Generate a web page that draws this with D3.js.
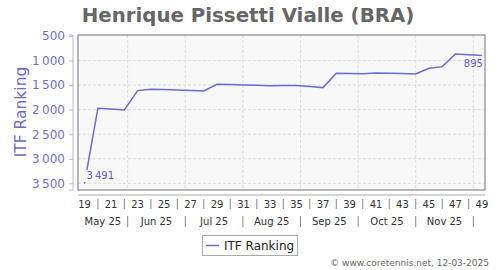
<!DOCTYPE html>
<html>
<head>
<meta charset="utf-8">
<script src="https://cdn.jsdelivr.net/npm/d3@7"></script>
<style>
  body { margin: 0; background: #fff; }
  text { font-family: "DejaVu Sans", sans-serif; }
</style>
</head>
<body>
<div id="viz"></div>
<script>
// weekly ITF ranking, weeks 19..49 of 2025
const weeks = d3.range(19, 50);
const ranking = [3491, 1970, 1985, 2005, 1612, 1585, 1592, 1600, 1608, 1618,
  1483, 1490, 1497, 1503, 1512, 1508, 1510, 1530, 1551, 1259,
  1265, 1270, 1252, 1260, 1265, 1273, 1157, 1124, 866, 880, 895];
const yTicks = [500, 1000, 1500, 2000, 2500, 3000, 3500];
const weekLabels = d3.range(19, 50, 2);
const monthLabels = ['May 25', 'Jun 25', 'Jul 25', 'Aug 25', 'Sep 25', 'Oct 25', 'Nov 25'];
// month boundaries, in week units
const monthEdges = [22.25, 26.6, 30.95, 35.3, 39.65, 44.0, 48.35];

const width = 500, height = 270;
const pLeft = 78, pRight = 485, pTop = 35, pBottom = 190;

const svg = d3.select('#viz').append('svg')
  .attr('width', width)
  .attr('height', height);

const x = d3.scaleLinear().domain([18.5, 49.23]).range([pLeft, pRight]);
const y = d3.scaleLinear().domain([480, 3636]).range([pTop, pBottom]);

const fmt = d => d3.format(',')(d).replace(',', '\u2009');

svg.append('text')
  .attr('x', 248)
  .attr('y', 22)
  .attr('text-anchor', 'middle')
  .style('font-size', '19.8px')
  .style('font-weight', 'bold')
  .attr('fill', '#666')
  .text('Henrique Pissetti Vialle (BRA)');

// plot area
svg.append('rect')
  .attr('x', pLeft).attr('y', pTop)
  .attr('width', pRight - pLeft).attr('height', pBottom - pTop)
  .attr('fill', '#f8f8f8');

svg.append('g')
  .selectAll('line')
  .data(yTicks.slice(1))
  .join('line')
  .attr('x1', pLeft).attr('x2', pRight)
  .attr('y1', d => y(d)).attr('y2', d => y(d))
  .attr('stroke', '#ddd')
  .attr('stroke-dasharray', '3,2');

svg.append('g')
  .selectAll('line')
  .data(monthEdges)
  .join('line')
  .attr('x1', d => x(d)).attr('x2', d => x(d))
  .attr('y1', pTop).attr('y2', pBottom)
  .attr('stroke', '#ddd')
  .attr('stroke-dasharray', '3,2');

// y axis
const yAxis = svg.append('g')
  .attr('transform', 'translate(73,0)')
  .call(d3.axisLeft(y).tickValues(yTicks).tickFormat(fmt).tickSize(4).tickPadding(4));
yAxis.select('.domain').attr('stroke', '#b8b8e0').attr('d', `M-4,${pTop}H0V${pBottom}H-4`);
yAxis.selectAll('.tick line').attr('stroke', '#b8b8e0');
yAxis.selectAll('.tick text')
  .attr('fill', '#7070cc')
  .style('font-size', '12px')
  .style('font-family', '"DejaVu Sans", sans-serif');

svg.append('text')
  .attr('transform', 'translate(26,112) rotate(-90)')
  .attr('text-anchor', 'middle')
  .style('font-size', '15.5px')
  .attr('fill', '#6a6acc')
  .text('ITF Ranking');

// x axis
svg.append('line')
  .attr('x1', pLeft).attr('x2', pRight)
  .attr('y1', 195).attr('y2', 195)
  .attr('stroke', '#aaa');

svg.append('g')
  .selectAll('text')
  .data(weekLabels)
  .join('text')
  .attr('x', d => x(d))
  .attr('y', 208)
  .attr('text-anchor', 'middle')
  .style('font-size', '10px')
  .attr('fill', '#333')
  .text(d => d);

svg.append('g')
  .selectAll('line')
  .data(weekLabels.slice(0, -1).map(d => d + 1))
  .join('line')
  .attr('x1', d => x(d)).attr('x2', d => x(d))
  .attr('y1', 199).attr('y2', 209)
  .attr('stroke', '#888');

const monthCenters = monthLabels.map((m, i) => {
  const a = i === 0 ? 18.5 : monthEdges[i - 1];
  return (a + monthEdges[i]) / 2;
});

svg.append('g')
  .selectAll('text')
  .data(monthLabels)
  .join('text')
  .attr('x', (d, i) => x(monthCenters[i]))
  .attr('y', 225)
  .attr('text-anchor', 'middle')
  .style('font-size', '10px')
  .attr('fill', '#333')
  .text(d => d);

svg.append('g')
  .selectAll('line')
  .data(monthEdges)
  .join('line')
  .attr('x1', d => x(d)).attr('x2', d => x(d))
  .attr('y1', 216).attr('y2', 227)
  .attr('stroke', '#888');

// the series
const pts = weeks.map((w, i) => [x(w), y(ranking[i])]);

svg.append('path')
  .attr('d', d3.line()(pts))
  .attr('fill', 'none')
  .attr('stroke', '#6b6bd6')
  .attr('stroke-width', 1.5);

// value labels at first and last point
const first = pts[0], last = pts[pts.length - 1];
svg.append('rect')
  .attr('x', first[0] - 1)
  .attr('y', first[1] - 13)
  .attr('width', 30)
  .attr('height', 12.5)
  .attr('fill', '#f8f8f8');
svg.append('text')
  .attr('x', first[0] + 2)
  .attr('y', first[1] - 4)
  .style('font-size', '10px')
  .attr('fill', '#5a5ac0')
  .text(fmt(ranking[0]));
svg.append('circle')
  .attr('cx', first[0])
  .attr('cy', first[1])
  .attr('r', 0.8)
  .attr('fill', '#6b6bd6');

svg.append('text')
  .attr('x', last[0] + 1)
  .attr('y', last[1] + 12)
  .attr('text-anchor', 'end')
  .style('font-size', '10px')
  .attr('fill', '#5a5ac0')
  .text(fmt(ranking[ranking.length - 1]));

svg.append('rect')
  .attr('x', pLeft).attr('y', pTop)
  .attr('width', pRight - pLeft).attr('height', pBottom - pTop)
  .attr('fill', 'none')
  .attr('stroke', '#888')
  .attr('stroke-width', 1.2);

// legend
svg.append('rect')
  .attr('x', 202.5).attr('y', 235.5)
  .attr('width', 95).attr('height', 20)
  .attr('fill', '#fff')
  .attr('stroke', '#aaa');
svg.append('line')
  .attr('x1', 206).attr('x2', 219)
  .attr('y1', 245.5).attr('y2', 245.5)
  .attr('stroke', '#6b6bd6')
  .attr('stroke-width', 1.5);
svg.append('text')
  .attr('x', 224)
  .attr('y', 250)
  .style('font-size', '12px')
  .attr('fill', '#222')
  .text('ITF Ranking');

svg.append('text')
  .attr('x', 489)
  .attr('y', 266)
  .attr('text-anchor', 'end')
  .style('font-size', '9px')
  .attr('fill', '#666')
  .text('\u00a9 www.coretennis.net, 12-03-2025');
</script>
</body>
</html>
